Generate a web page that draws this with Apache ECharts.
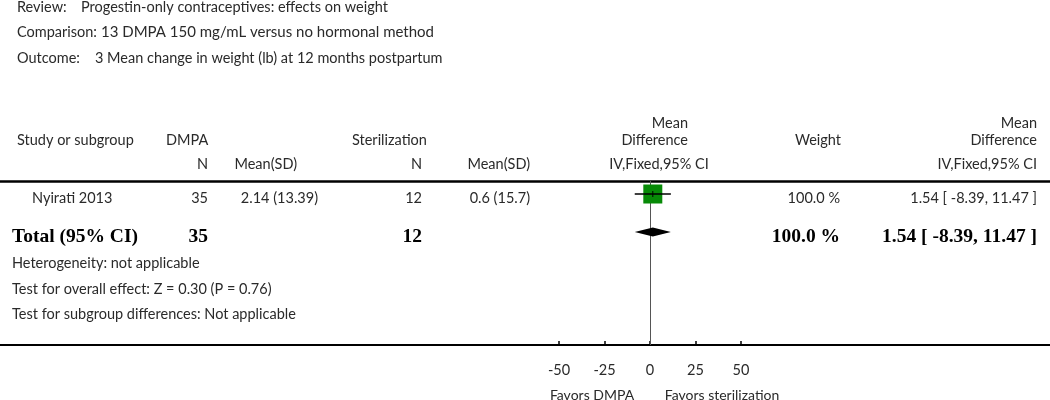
<!DOCTYPE html>
<html>
<head>
<meta charset="utf-8">
<script src="https://cdn.jsdelivr.net/npm/echarts@6/dist/echarts.min.js"></script>
<style>html,body{margin:0;padding:0;background:#fff;}#c{width:1050px;height:400px;}</style>
</head>
<body>
<div id="c"></div>
<script>
// ---- data ----
const studies = ['Nyirati 2013'];
const n1 = [35];
const mean1 = [2.14];
const sd1 = [13.39];
const n2 = [12];
const mean2 = [0.6];
const sd2 = [15.7];
const md = [1.54];
const ciLo = [-8.39];
const ciHi = [11.47];
const weight = [100.0];
const totalN1 = 35;
const totalN2 = 12;
const totalMd = 1.54;
const totalLo = -8.39;
const totalHi = 11.47;
const totalWeight = 100.0;
const tickValues = [-50, -25, 0, 25, 50];
const favorsLeft = 'Favors DMPA';
const favorsRight = 'Favors sterilization';

// ---- layout ----
const W = 1050, PX = 1.82, ZERO = 650;
const xMin = -ZERO / PX, xMax = (W - ZERO) / PX;
const gridTop = 181, gridBottom = 55;
const rowGap = 38, firstRowOff = 13;
const gridH = 400 - gridTop - gridBottom;
const yMin = -firstRowOff / rowGap, yMax = (gridH - firstRowOff) / rowGap;

const FONT = 'Lato, "Open Sans", sans-serif';
const SERIF = '"Liberation Serif", "DejaVu Serif", serif';
const TC = '#2a2a2a';
const FS = '14.5px ';
function t(text, x, y, align, opts) {
  opts = opts || {};
  return {type: 'text', x: x, y: y, silent: true,
    style: {text: text, fill: opts.fill || TC, font: opts.font || (FS + FONT),
      textAlign: align || 'left', textVerticalAlign: 'middle'}};
}
const fmtCI = (m, l, h) => m.toFixed(2) + ' [ ' + l.toFixed(2) + ', ' + h.toFixed(2) + ' ]';

const g = [];
g.push(t('Review:', 17, 7));
g.push(t('Progestin-only contraceptives: effects on weight', 81, 7));
g.push(t('Comparison:', 17, 32));
g.push(t('13 DMPA 150 mg/mL versus no hormonal method', 101, 32, 'left', {font: '15px ' + FONT}));
g.push(t('Outcome:', 17, 58));
g.push(t('3 Mean change in weight (lb) at 12 months postpartum', 95, 58));
// header
g.push(t('Study or subgroup', 17, 140));
g.push(t('DMPA', 166, 140));
g.push(t('Sterilization', 352, 140));
g.push(t('Mean', 688, 123, 'right'));
g.push(t('Difference', 688, 140, 'right'));
g.push(t('Weight', 841, 140, 'right'));
g.push(t('Mean', 1037, 123, 'right'));
g.push(t('Difference', 1037, 140, 'right'));
g.push(t('N', 208, 164, 'right'));
g.push(t('Mean(SD)', 297, 164, 'right'));
g.push(t('N', 422, 164, 'right'));
g.push(t('Mean(SD)', 530, 164, 'right'));
g.push(t('IV,Fixed,95% CI', 659, 164, 'center'));
g.push(t('IV,Fixed,95% CI', 1037, 164, 'right'));
// study rows
studies.forEach((s, i) => {
  const y = 198 + i * rowGap;
  g.push(t(s, 32, y));
  g.push(t(String(n1[i]), 208, y, 'right'));
  g.push(t(mean1[i] + ' (' + sd1[i] + ')', 318, y, 'right'));
  g.push(t(String(n2[i]), 422, y, 'right'));
  g.push(t(mean2[i] + ' (' + sd2[i] + ')', 530, y, 'right'));
  g.push(t(weight[i].toFixed(1) + ' %', 840, y, 'right'));
  g.push(t(fmtCI(md[i], ciLo[i], ciHi[i]), 1037, y, 'right'));
});
// total row
const BF = 'bold 19.5px ' + SERIF;
const ty = 237;
g.push(t('Total (95% CI)', 12, ty, 'left', {font: BF, fill: '#000'}));
g.push(t(String(totalN1), 208, ty, 'right', {font: BF, fill: '#000'}));
g.push(t(String(totalN2), 422, ty, 'right', {font: BF, fill: '#000'}));
g.push(t(totalWeight.toFixed(1) + ' %', 840, ty, 'right', {font: BF, fill: '#000'}));
g.push(t(fmtCI(totalMd, totalLo, totalHi), 1037, ty, 'right', {font: BF, fill: '#000'}));
g.push(t('Heterogeneity: not applicable', 12, 263));
g.push(t('Test for overall effect: Z = 0.30 (P = 0.76)', 12, 289));
g.push(t('Test for subgroup differences: Not applicable', 12, 314));
g.push(t(favorsLeft, 592, 395, 'center', {font: '14px ' + FONT}));
g.push(t(favorsRight, 722, 395, 'center', {font: '14px ' + FONT}));

const studyData = studies.map((s, i) => [md[i], i, ciLo[i], ciHi[i]]);
const totalRow = studies.length;

const chart = echarts.init(document.getElementById('c'), null, {renderer: 'canvas'});
chart.setOption({
  animation: false,
  grid: {left: 0, right: 0, top: gridTop, bottom: gridBottom, containLabel: false},
  xAxis: [{
    type: 'value', min: xMin, max: xMax, position: 'bottom',
    splitLine: {show: false},
    axisLine: {show: true, onZero: false, lineStyle: {color: '#000', width: 2}},
    axisTick: {show: true, inside: true, length: 4, customValues: tickValues, lineStyle: {color: '#000', width: 1.5}},
    axisLabel: {show: true, customValues: tickValues, margin: 18, color: TC, fontSize: 14.5, fontFamily: FONT}
  }, {
    type: 'value', min: xMin, max: xMax, position: 'top',
    splitLine: {show: false},
    axisLine: {show: true, onZero: false, lineStyle: {color: '#000', width: 2.5}},
    axisTick: {show: false}, axisLabel: {show: false}
  }],
  yAxis: {type: 'value', inverse: true, min: yMin, max: yMax, show: false},
  graphic: g,
  series: [
    {
      type: 'line', data: [], z: 1,
      markLine: {
        silent: true, symbol: 'none', label: {show: false}, z: 1,
        lineStyle: {color: '#555', width: 1, type: 'solid'},
        data: [{xAxis: 0}]
      }
    },
    {
      type: 'scatter', symbol: 'rect', symbolSize: 19,
      itemStyle: {color: '#078a07', opacity: 1},
      data: studyData.map(d => [d[0], d[1]]),
      z: 3
    },
    {
      type: 'custom',
      data: studyData,
      renderItem: function (params, api) {
        const a = api.coord([api.value(2), api.value(1)]);
        const b = api.coord([api.value(3), api.value(1)]);
        const m = api.coord([api.value(0), api.value(1)]);
        return {type: 'group', children: [
          {type: 'line', shape: {x1: a[0], y1: a[1], x2: b[0], y2: b[1]}, style: {stroke: '#000', lineWidth: 1.5}},
          {type: 'line', shape: {x1: m[0], y1: m[1] - 3, x2: m[0], y2: m[1] + 3}, style: {stroke: '#000', lineWidth: 1}}
        ]};
      },
      z: 4
    },
    {
      type: 'custom',
      data: [[totalMd, totalRow, totalLo, totalHi]],
      renderItem: function (params, api) {
        const a = api.coord([api.value(2), api.value(1)]);
        const b = api.coord([api.value(3), api.value(1)]);
        const m = api.coord([api.value(0), api.value(1)]);
        const h = 4.5;
        return {type: 'polygon', shape: {points: [[a[0], a[1]], [m[0], m[1] - h], [b[0], b[1]], [m[0], m[1] + h]]},
          style: {fill: '#000'}};
      },
      z: 4
    }
  ]
});
</script>
</body>
</html>
